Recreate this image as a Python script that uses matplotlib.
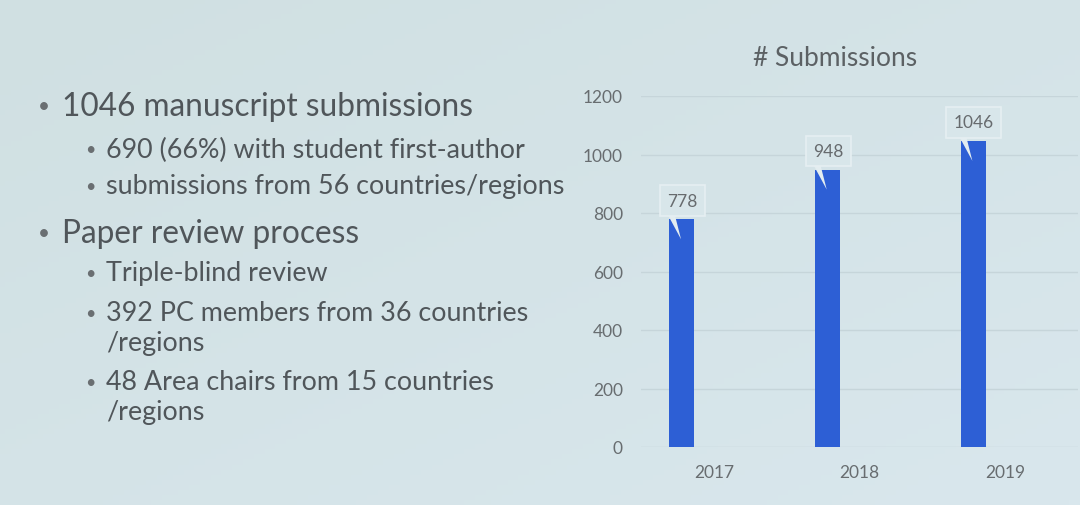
import matplotlib
matplotlib.use("Agg")
import matplotlib.pyplot as plt
import numpy as np
from matplotlib.patches import Polygon
from matplotlib.colors import LinearSegmentedColormap

years = ["2017", "2018", "2019"]
submissions = [778, 948, 1046]
yticks = [0, 200, 400, 600, 800, 1000, 1200]
title = "# Submissions"

bullets = [
    (0, "1046 manuscript submissions"),
    (1, "690 (66%) with student first-author"),
    (1, "submissions from 56 countries/regions"),
    (0, "Paper review process"),
    (1, "Triple-blind review"),
    (1, "392 PC members from 36 countries\n/regions"),
    (1, "48 Area chairs from 15 countries\n/regions"),
]

FONT = "Lato"
TXT = "#50565a"
BAR = "#2d5fd5"

fig = plt.figure(figsize=(10.8, 5.06), dpi=100)
fig.patch.set_facecolor("#d4e3e7")

# subtle background gradient
bg = fig.add_axes([0, 0, 1, 1], zorder=-10)
gx = np.linspace(0, 1, 200)
gy = np.linspace(0, 1, 100)
G = np.add.outer(gy * 0.5, gx * 0.5)
cm = LinearSegmentedColormap.from_list("bg", ["#d0e0e2", "#d9e7ed"])
bg.imshow(G, cmap=cm, aspect="auto", extent=[0, 1, 0, 1], origin="upper")
bg.set_axis_off()

# left bullet text
y_main = [107, 150, 187, 234, 274, 314, 383]
for (lvl, txt), yp in zip(bullets, y_main):
    yf = 1 - yp / 506
    if lvl == 0:
        fig.text(38 / 1080, yf, "•", fontsize=15, color="#6a6f72", family=FONT, va="center")
        fig.text(62 / 1080, yf, txt, fontsize=22.8, color=TXT, family=FONT, va="center")
    else:
        fig.text(85 / 1080, yf, "•", fontsize=13, color="#6a6f72", family=FONT, va="center")
        lines = txt.split("\n")
        for k, ln in enumerate(lines):
            fig.text(106 / 1080, 1 - (yp + k * 30) / 506, ln, fontsize=19.4, color=TXT,
                     family=FONT, va="center")

# chart
ax = fig.add_axes([641 / 1080, (506 - 448) / 506, (1078 - 641) / 1080, (448 - 97) / 506])
ax.set_facecolor("none")
x = np.arange(len(years))
off = -0.22
bw = 0.172
ax.bar(x + off, submissions, width=bw, color=BAR, zorder=3)
ax.set_xlim(-0.5, len(years) - 0.5)
ax.set_ylim(0, 1200)
ax.set_yticks(yticks)
ax.set_yticklabels([str(t) for t in yticks], family=FONT, fontsize=12.5, color="#686d70")
ax.set_xticks(x)
ax.set_xticklabels(years, family=FONT, fontsize=12.5, color="#686d70")
ax.tick_params(length=0, axis="y", pad=13)
ax.tick_params(length=0, axis="x", pad=12)
for s in ax.spines.values():
    s.set_visible(False)
ax.grid(axis="y", color="#c6d5da", linewidth=1.0, zorder=0)

for xi, v in zip(x, submissions):
    bx = xi + off
    ax.text(bx + 0.005, v + 64, str(v), ha="center", va="center", fontsize=12.5,
            family=FONT, color="#676b6e", zorder=5,
            bbox=dict(boxstyle="square,pad=0.42", fc="#d8e6ea", ec="#e6eff2", lw=1.2))
    tail = Polygon([[bx - 0.10, v + 20], [bx - 0.05, v + 20], [bx - 0.005, v - 68]],
                   closed=True, fc="#e3edf0", ec="none", zorder=4)
    ax.add_patch(tail)

fig.text(835 / 1080, 1 - 58 / 506, title, ha="center", va="center", fontsize=19,
         family=FONT, color="#5c6164")

fig.savefig("out.png", dpi=100, facecolor=fig.get_facecolor())
